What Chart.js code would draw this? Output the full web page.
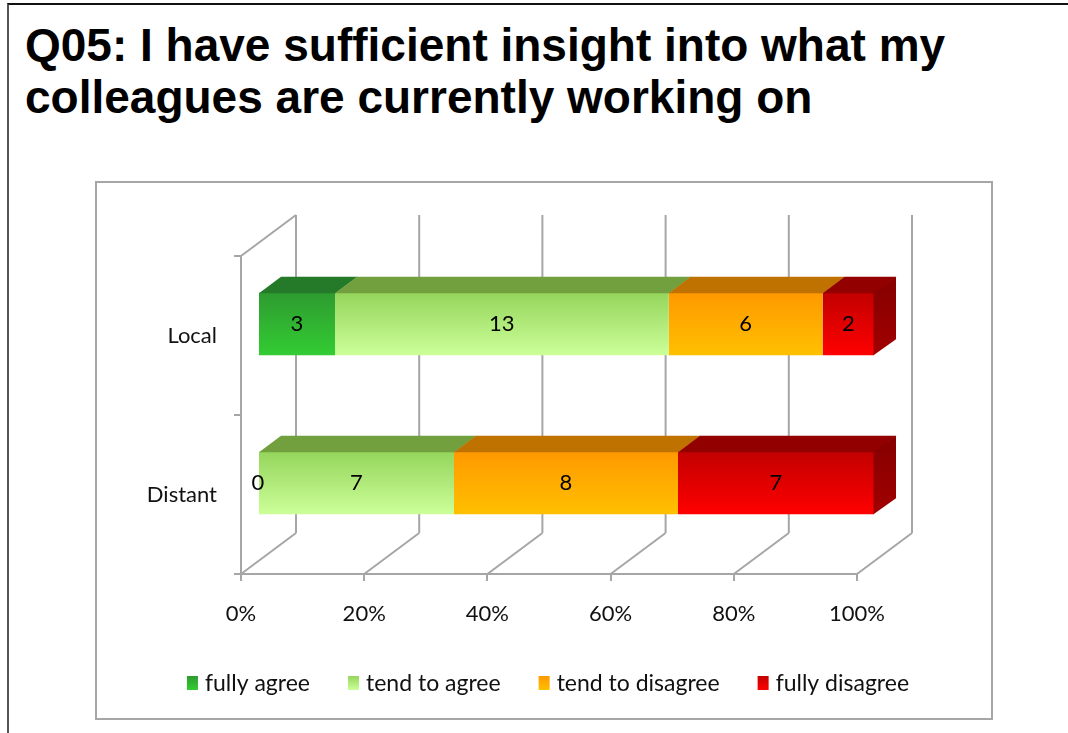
<!DOCTYPE html>
<html>
<head>
<meta charset="utf-8">
<script src="https://cdn.jsdelivr.net/npm/chart.js@4.4.1/dist/chart.umd.min.js"></script>
<style>
  html, body { margin: 0; padding: 0; background: #ffffff; }
  body { width: 1068px; height: 733px; position: relative; overflow: hidden; }
  #frame { position: absolute; left: 7px; top: 3px; width: 1070px; height: 740px;
           border-top: 2px solid #111111; border-left: 2px solid #555555; }
  #title { position: absolute; left: 25px; top: 19px; margin: 0;
           font-family: "Liberation Sans", Arial, sans-serif; font-weight: bold;
           font-size: 46px; line-height: 52px; color: #000000; white-space: nowrap; }
  #box { position: absolute; left: 95px; top: 181px; width: 898px; height: 539px;
         box-sizing: border-box; border: 2px solid #a6a6a6; }
  #wrap { position: absolute; left: 96px; top: 181px; width: 896px; height: 538px; }
</style>
</head>
<body>
<div id="frame"></div>
<div id="title">Q05: I have sufficient insight into what my<br>colleagues are currently working on</div>
<div id="box"></div>
<div id="wrap"><canvas id="c" width="896" height="538"></canvas></div>
<script>
// ---- data ----
const categories = ['Local', 'Distant'];
const seriesNames = ['fully agree', 'tend to agree', 'tend to disagree', 'fully disagree'];
const fullyAgree = [3, 0];
const tendToAgree = [13, 7];
const tendToDisagree = [6, 8];
const fullyDisagree = [2, 7];
const xTickValues = [0, 20, 40, 60, 80, 100];
const xTickLabels = ['0%', '20%', '40%', '60%', '80%', '100%'];

// ---- styles ----
const frontTop = ['#2e9b30', '#95d55c', '#ff9900', '#c20000'];
const frontBottom = ['#33cc33', '#ccff99', '#ffc000', '#ff0000'];
const legendColor = ['#31b531', '#b3ea7c', '#ffad00', '#e00000'];
const topFace = ['#247a29', '#72a03f', '#c07200', '#930000'];
const GRID = '#a6a6a6';
const WALL_DX = 55, WALL_DY = -41;     // full depth of the floor / walls
const BAR_DX = 17, BAR_DY = -11.5;      // bar front face depth offset
const DEPTH_DX = 22, DEPTH_DY = -16;    // bar depth
const FONT = 'Lato, "Open Sans", sans-serif';

const rawSeries = [fullyAgree, tendToAgree, tendToDisagree, fullyDisagree];
const totals = categories.map((_, i) => rawSeries.reduce((s, a) => s + a[i], 0));
const pctSeries = rawSeries.map(a => a.map((v, i) => v / totals[i] * 100));

function makeBg(k) {
  return function (ctx) {
    const chart = ctx.chart;
    if (ctx.type !== 'data' || !chart.chartArea) return legendColor[k];
    const el = ctx.element;
    let y, h;
    if (el && el.height) { y = el.y; h = el.height; }
    else {
      y = chart.scales.y.getPixelForValue(ctx.dataIndex);
      h = chart.scales.y.height / categories.length * 0.393;
    }
    const g = chart.ctx.createLinearGradient(0, y - h / 2, 0, y + h / 2);
    g.addColorStop(0, frontTop[k]);
    g.addColorStop(1, frontBottom[k]);
    return g;
  };
}

const datasets = seriesNames.map((name, k) => ({
  label: name,
  data: pctSeries[k],
  counts: rawSeries[k],
  backgroundColor: makeBg(k),
  borderWidth: 0,
  categoryPercentage: 1.0,
  barPercentage: 0.393
}));

const threeD = {
  id: 'threeD',
  beforeDatasetsDraw(chart) {
    const ctx = chart.ctx;
    const xs = chart.scales.x;
    const a = chart.chartArea;
    ctx.save();
    ctx.strokeStyle = GRID;
    ctx.lineWidth = 2;
    ctx.beginPath();
    ctx.moveTo(a.left, a.top);
    ctx.lineTo(a.left + WALL_DX, a.top + WALL_DY);
    xTickValues.forEach(v => {
      const px = xs.getPixelForValue(v);
      ctx.moveTo(px, a.bottom);
      ctx.lineTo(px + WALL_DX, a.bottom + WALL_DY);
      ctx.moveTo(px + WALL_DX, a.top + WALL_DY);
      ctx.lineTo(px + WALL_DX, a.bottom + WALL_DY);
    });
    ctx.stroke();
    ctx.restore();
    ctx.save();
    ctx.translate(BAR_DX, BAR_DY);
  },
  afterDatasetsDraw(chart) {
    const ctx = chart.ctx;
    ctx.restore();
    const metas = chart.data.datasets.map((d, k) => chart.getDatasetMeta(k));
    categories.forEach((c, j) => {
      let last = null;
      metas.forEach((meta, k) => {
        const el = meta.data[j];
        const p = el.getProps(['x', 'y', 'base', 'height'], true);
        const x1 = Math.min(p.base, p.x) + BAR_DX;
        const x2 = Math.max(p.base, p.x) + BAR_DX;
        const yt = p.y - p.height / 2 + BAR_DY;
        const yb = p.y + p.height / 2 + BAR_DY;
        if (x2 - x1 > 0.5) {
          ctx.save();
          ctx.fillStyle = topFace[k];
          ctx.beginPath();
          ctx.moveTo(x1, yt + 0.5);
          ctx.lineTo(x2 + 0.5, yt + 0.5);
          ctx.lineTo(x2 + 0.5 + DEPTH_DX, yt + DEPTH_DY);
          ctx.lineTo(x1 + DEPTH_DX, yt + DEPTH_DY);
          ctx.closePath();
          ctx.fill();
          ctx.restore();
          last = {x2, yt, yb};
        }
      });
      if (last) {
        ctx.save();
        const g = ctx.createLinearGradient(0, last.yt, 0, last.yb);
        g.addColorStop(0, '#8a0000');
        g.addColorStop(1, '#a20000');
        ctx.fillStyle = g;
        ctx.beginPath();
        ctx.moveTo(last.x2 - 0.5, last.yt);
        ctx.lineTo(last.x2 + DEPTH_DX, last.yt + DEPTH_DY);
        ctx.lineTo(last.x2 + DEPTH_DX, last.yb + DEPTH_DY);
        ctx.lineTo(last.x2 - 0.5, last.yb);
        ctx.closePath();
        ctx.fill();
        ctx.restore();
      }
    });
    // value labels (counts)
    ctx.save();
    ctx.font = '22px ' + FONT;
    ctx.fillStyle = '#000000';
    ctx.textAlign = 'center';
    ctx.textBaseline = 'middle';
    metas.forEach((meta, k) => {
      meta.data.forEach((el, j) => {
        const p = el.getProps(['x', 'y', 'base'], true);
        const cx = (p.x + p.base) / 2 + BAR_DX;
        const cy = p.y + BAR_DY;
        ctx.fillText(String(chart.data.datasets[k].counts[j]), cx, cy);
      });
    });
    ctx.restore();
  },
  afterDraw(chart) {
    // single-row legend built from the datasets
    const ctx = chart.ctx;
    ctx.save();
    ctx.font = '23px ' + FONT;
    ctx.textBaseline = 'middle';
    ctx.textAlign = 'left';
    const box = 11, boxH = 14, gap = 7, itemGap = 38;
    const items = chart.data.datasets.map((d, k) => ({
      text: d.label, w: ctx.measureText(d.label).width, k
    }));
    const total = items.reduce((s, it) => s + box + gap + it.w, 0) + itemGap * (items.length - 1);
    let x = chart.width / 2 + 4 - total / 2;
    const cy = chart.height - 36;
    items.forEach(it => {
      const g = ctx.createLinearGradient(0, cy - boxH / 2, 0, cy + boxH / 2);
      g.addColorStop(0, frontTop[it.k]);
      g.addColorStop(1, frontBottom[it.k]);
      ctx.fillStyle = g;
      ctx.fillRect(x, cy - boxH / 2, box, boxH);
      ctx.fillStyle = '#111111';
      ctx.fillText(it.text, x + box + gap, cy + 1);
      x += box + gap + it.w + itemGap;
    });
    ctx.restore();
  }
};

new Chart(document.getElementById('c'), {
  type: 'bar',
  data: { labels: categories, datasets },
  plugins: [threeD],
  options: {
    indexAxis: 'y',
    responsive: false,
    animation: false,
    events: [],
    layout: { padding: { left: 25, right: 135, top: 75, bottom: 91 } },
    scales: {
      x: {
        stacked: true, min: 0, max: 100,
        afterBuildTicks(s) { s.ticks = xTickValues.map(v => ({ value: v })); },
        afterFit(s) { s.height = 54; },
        ticks: {
          callback: (v, i) => xTickLabels[i],
          font: { family: FONT, size: 22 }, color: '#111111',
          padding: 20, maxRotation: 0, autoSkip: false
        },
        grid: { drawOnChartArea: false, drawTicks: true, tickLength: 7, color: GRID, lineWidth: 2 },
        border: { display: true, color: GRID, width: 2 }
      },
      y: {
        stacked: true,
        afterFit(s) { s.width = 120; },
        ticks: { font: { family: FONT, size: 22 }, color: '#111111', padding: 17 },
        grid: { drawOnChartArea: false, drawTicks: true, tickLength: 7, color: GRID, lineWidth: 2, offset: true },
        border: { display: true, color: GRID, width: 2 }
      }
    },
    plugins: {
      tooltip: { enabled: false },
      title: { display: false },
      legend: { display: false }
    }
  }
});
</script>
</body>
</html>
